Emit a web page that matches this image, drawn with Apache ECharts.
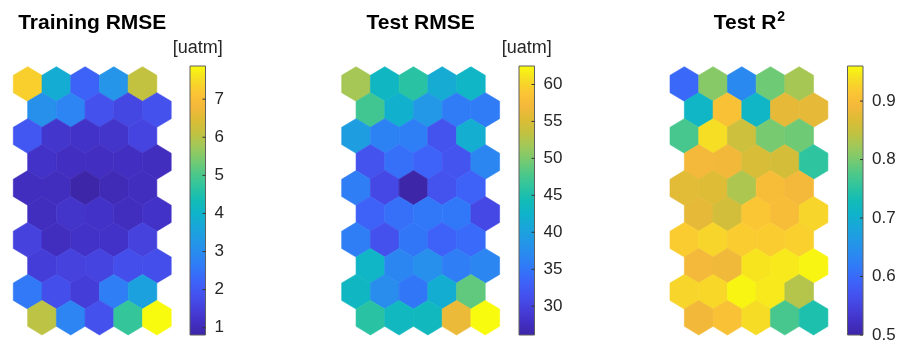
<!DOCTYPE html>
<html>
<head>
<meta charset="utf-8">
<script src="https://cdn.jsdelivr.net/npm/echarts@6/dist/echarts.min.js"></script>
<style>
  html, body { margin: 0; padding: 0; background: #ffffff; }
  #chart { width: 910px; height: 347px; }
</style>
</head>
<body>
<div id="chart"></div>
<script>
// SOM component planes: 10 rows x 5 units each, top row first.
// Odd rows are shifted half a unit to the right (hexagonal lattice).
const trainRMSE = [
  [7.30, 3.80, 2.20, 3.20, 6.10],
  [3.10, 2.85, 1.85, 1.65, 1.85],
  [1.95, 1.30, 1.20, 1.25, 1.60],
  [1.20, 1.12, 1.12, 1.12, 1.10],
  [1.10, 1.10, 0.81, 1.00, 1.10],
  [1.10, 1.25, 1.20, 1.10, 1.20],
  [1.55, 1.10, 1.20, 1.20, 1.55],
  [1.45, 1.55, 1.60, 1.80, 1.80],
  [2.60, 1.80, 1.45, 2.70, 3.50],
  [6.05, 2.85, 1.85, 4.76, 7.87]
];

const testRMSE = [
  [51.9, 43.2, 45.8, 41.4, 42.8],
  [47.2, 42.1, 38.8, 35.6, 35.6],
  [39.6, 36.3, 35.9, 31.6, 41.8],
  [31.6, 34.5, 33.4, 31.8, 36.7],
  [35.8, 30.5, 26.1, 31.6, 33.2],
  [33.2, 34.5, 35.2, 35.2, 30.5],
  [35.8, 31.5, 35.0, 33.2, 34.0],
  [42.8, 36.7, 37.7, 35.8, 36.7],
  [43.2, 37.5, 35.0, 41.6, 48.7],
  [45.8, 43.5, 43.6, 56.3, 62.5]
];

const testR2 = [
  [0.597, 0.808, 0.638, 0.794, 0.827],
  [0.712, 0.905, 0.712, 0.877, 0.877],
  [0.771, 0.937, 0.854, 0.799, 0.794],
  [0.891, 0.889, 0.863, 0.860, 0.753],
  [0.873, 0.870, 0.831, 0.900, 0.891],
  [0.877, 0.859, 0.914, 0.900, 0.928],
  [0.920, 0.928, 0.920, 0.920, 0.924],
  [0.891, 0.888, 0.942, 0.946, 0.955],
  [0.928, 0.930, 0.955, 0.946, 0.836],
  [0.889, 0.905, 0.935, 0.771, 0.739]
];

// Colour-bar limits and tick labels
const trainRange = [0.81, 7.87];
const testRange = [26.1, 62.5];
const r2Range = [0.5, 0.96];
const trainTicks = [1, 2, 3, 4, 5, 6, 7];
const testTicks = [30, 35, 40, 45, 50, 55, 60];
const r2Ticks = [0.5, 0.6, 0.7, 0.8, 0.9];

const panelTitles = ['Training RMSE', 'Test RMSE', 'Test R'];
const unitLabels = ['[uatm]', '[uatm]', ''];

// parula-like colour map
const parula = [
  '#3E26A8', '#4230C4', '#4540DC', '#4452EE', '#3D63F9', '#3178F8', '#2A89F0',
  '#2298E6', '#19A6DA', '#0FB3CA', '#12BCB6', '#2EC4A0', '#4EC888', '#78CA70',
  '#A0C85A', '#C2C240', '#DDBC36', '#F4B83A', '#FBC634', '#F6DE24', '#F9FB0E'
];

const FONT = '"Liberation Sans", Arial, Helvetica, sans-serif';

// layout of the three panels
const hexLeft = [13.3, 341.7, 670];
const hexTop = 66.7, hexW = 157.9, hexH = 268.3;
const barLeft = [190, 519, 847.5];
const barTop = 66, barW = 15.5, barH = 269;

const planes = [trainRMSE, testRMSE, testR2];
const ranges = [trainRange, testRange, r2Range];
const ticks = [trainTicks, testTicks, r2Ticks];

function toLattice(rows) {
  const out = [];
  rows.forEach((row, r) => {
    row.forEach((v, c) => out.push([c + (r % 2 === 1 ? 0.5 : 0), r, v]));
  });
  return out;
}

function renderHex(params, api) {
  const cx = api.value(0), cy = api.value(1);
  const c = api.coord([cx, cy]);
  const o = api.coord([cx + 0.5, cy + 2 / 3]);
  const hw = o[0] - c[0];
  const hh = o[1] - c[1];
  const q = hh / 2;
  const color = api.visual('color');
  return {
    type: 'polygon',
    shape: {
      points: [
        [c[0], c[1] - hh], [c[0] + hw, c[1] - q], [c[0] + hw, c[1] + q],
        [c[0], c[1] + hh], [c[0] - hw, c[1] + q], [c[0] - hw, c[1] - q]
      ]
    },
    style: { fill: color, stroke: color, lineWidth: 0.6 }
  };
}

// colour bar: gradient box plus short inward ticks on its right edge
function makeBarRenderer(tickVals) {
  return function (params, api) {
    const lo = api.value(1), hi = api.value(2);
    const p1 = api.coord([0, hi]);
    const p2 = api.coord([1, lo]);
    const stops = parula.map((col, i) => ({ offset: i / (parula.length - 1), color: col }));
    const children = [{
      type: 'rect',
      shape: { x: p1[0], y: p1[1], width: p2[0] - p1[0], height: p2[1] - p1[1] },
      style: {
        fill: new echarts.graphic.LinearGradient(0, 1, 0, 0, stops),
        stroke: '#5f5f5f',
        lineWidth: 1
      }
    }];
    tickVals.forEach(t => {
      const p = api.coord([1, t]);
      children.push({
        type: 'line',
        shape: { x1: p[0] - 3, y1: p[1], x2: p[0], y2: p[1] },
        style: { stroke: '#333333', lineWidth: 1 }
      });
    });
    return { type: 'group', children };
  };
}

const grid = [], xAxis = [], yAxis = [], series = [], visualMap = [], graphic = [];

const measureCtx = document.createElement('canvas').getContext('2d');
function textWidth(txt, font) { measureCtx.font = font; return measureCtx.measureText(txt).width; }

planes.forEach((plane, i) => {
  const [lo, hi] = ranges[i];
  // hexagon map
  grid.push({ left: hexLeft[i], top: hexTop, width: hexW, height: hexH });
  xAxis.push({ type: 'value', gridIndex: 2 * i, min: -0.5, max: 5, show: false });
  yAxis.push({ type: 'value', gridIndex: 2 * i, min: -2 / 3, max: 9 + 2 / 3, inverse: true, show: false });
  series.push({
    type: 'custom',
    name: panelTitles[i],
    coordinateSystem: 'cartesian2d',
    xAxisIndex: 2 * i,
    yAxisIndex: 2 * i,
    renderItem: renderHex,
    encode: { x: 0, y: 1 },
    data: toLattice(plane),
    silent: true
  });
  visualMap.push({
    type: 'continuous',
    show: false,
    seriesIndex: 2 * i,
    dimension: 2,
    min: lo,
    max: hi,
    inRange: { color: parula }
  });

  // colour bar
  grid.push({ left: barLeft[i], top: barTop, width: barW, height: barH });
  xAxis.push({ type: 'value', gridIndex: 2 * i + 1, min: 0, max: 1, show: false });
  yAxis.push({
    type: 'value',
    gridIndex: 2 * i + 1,
    min: lo,
    max: hi,
    position: 'right',
    axisLine: { show: false },
    splitLine: { show: false },
    axisTick: { show: false },
    axisLabel: {
      show: true, margin: 9, fontSize: 17, color: '#262626', fontFamily: FONT,
      customValues: ticks[i]
    }
  });
  series.push({
    type: 'custom',
    coordinateSystem: 'cartesian2d',
    xAxisIndex: 2 * i + 1,
    yAxisIndex: 2 * i + 1,
    renderItem: makeBarRenderer(ticks[i]),
    data: [[0, lo, hi]],
    silent: true
  });

  // titles
  const cx = hexLeft[i] + hexW / 2;
  const titleFont = 'bold 21px ' + FONT;
  if (i === 2) {
    const supFont = 'bold 14px ' + FONT;
    const w1 = textWidth(panelTitles[i], titleFont);
    const w2 = textWidth('2', supFont);
    const x0 = cx - (w1 + w2) / 2;
    graphic.push({
      type: 'text', x: x0, y: 23,
      style: { text: panelTitles[i], font: titleFont, fill: '#000000', align: 'left', verticalAlign: 'middle' }
    });
    graphic.push({
      type: 'text', x: x0 + w1 + 1, y: 17,
      style: { text: '2', font: supFont, fill: '#000000', align: 'left', verticalAlign: 'middle' }
    });
  } else {
    graphic.push({
      type: 'text', x: cx, y: 23,
      style: { text: panelTitles[i], font: titleFont, fill: '#000000', align: 'center', verticalAlign: 'middle' }
    });
  }
  if (unitLabels[i]) {
    graphic.push({
      type: 'text', x: barLeft[i] + barW / 2, y: 48,
      style: { text: unitLabels[i], font: '18px ' + FONT, fill: '#262626', align: 'center', verticalAlign: 'middle' }
    });
  }
});

const chart = echarts.init(document.getElementById('chart'), null, { renderer: 'canvas' });
chart.setOption({
  backgroundColor: '#ffffff',
  animation: false,
  grid, xAxis, yAxis, series, visualMap, graphic
});
</script>
</body>
</html>
